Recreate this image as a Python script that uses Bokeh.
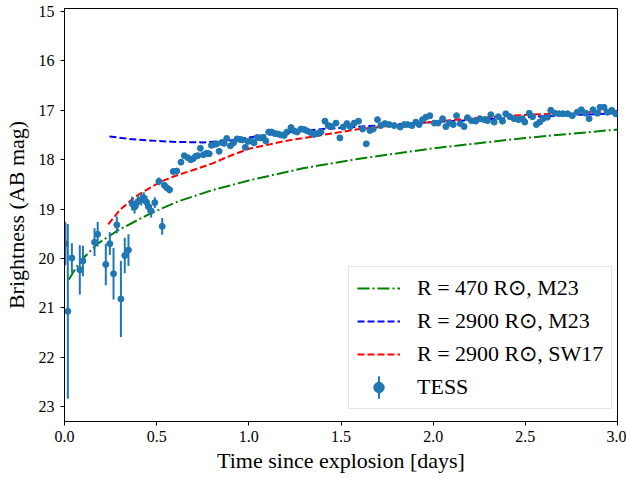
from bokeh.plotting import figure
from bokeh.models import Range1d, FixedTicker, PrintfTickFormatter, Legend, LegendItem, ColumnDataSource
from bokeh.embed import file_html
from bokeh.resources import INLINE

# ---- TESS light curve (time since explosion [d], AB mag, error) ----
t_obs = [0.004, 0.018, 0.040, 0.083, 0.100, 0.163, 0.180, 0.224, 0.246, 0.266,
         0.284, 0.306, 0.327, 0.347, 0.367, 0.380, 0.398, 0.416, 0.430, 0.445,
         0.455, 0.470, 0.490, 0.512, 0.530, 0.542, 0.555, 0.570, 0.590, 0.609,
         0.632, 0.650, 0.669, 0.685, 0.698, 0.712, 0.723, 0.737, 0.754, 0.772,
         0.785, 0.797, 0.814, 0.826, 0.839, 0.855, 0.866, 0.880, 0.900, 0.917,
         0.936, 0.952, 0.965, 0.981, 0.996, 1.012, 1.028, 1.046, 1.062, 1.078,
         1.092, 1.108, 1.124, 1.140, 1.157, 1.175, 1.192, 1.207, 1.229, 1.247,
         1.262, 1.283, 1.301, 1.317, 1.335, 1.352, 1.373, 1.391, 1.413, 1.431,
         1.449, 1.473, 1.494, 1.512, 1.532, 1.550, 1.572, 1.595, 1.617, 1.637,
         1.657, 1.675, 1.698, 1.716, 1.738, 1.762, 1.789, 1.821, 1.843, 1.861,
         1.885, 1.906, 1.924, 1.942, 1.960, 1.982, 2.006, 2.027, 2.051, 2.069,
         2.087, 2.109, 2.127, 2.147, 2.168, 2.186, 2.208, 2.231, 2.253, 2.277,
         2.295, 2.313, 2.331, 2.354, 2.376, 2.394, 2.416, 2.439, 2.463, 2.484,
         2.497, 2.521, 2.539, 2.560, 2.578, 2.596, 2.620, 2.638, 2.660, 2.683,
         2.705, 2.728, 2.755, 2.782, 2.804, 2.828, 2.846, 2.867, 2.891, 2.905,
         2.927, 2.945, 2.969, 2.990]
m_obs = [19.70, 21.07, 19.99, 20.23, 20.05, 19.67, 19.51, 20.12, 19.70, 20.31,
         19.32, 20.82, 19.94, 19.83, 18.89, 18.96, 18.85, 18.81, 18.77, 18.86,
         18.95, 19.04, 18.87, 18.44, 19.35, 18.52, 18.57, 18.61, 18.24, 18.23,
         18.05, 17.92, 17.96, 18.00, 17.98, 17.93, 17.92, 17.77, 17.90, 17.87,
         17.88, 17.71, 17.69, 17.68, 17.83, 17.65, 17.67, 17.57, 17.72, 17.66,
         17.58, 17.59, 17.60, 17.75, 17.63, 17.62, 17.66, 17.55, 17.56, 17.55,
         17.62, 17.44, 17.44, 17.47, 17.48, 17.50, 17.51, 17.44, 17.35, 17.42,
         17.44, 17.38, 17.39, 17.42, 17.45, 17.49, 17.47, 17.44, 17.22, 17.31,
         17.33, 17.26, 17.56, 17.34, 17.27, 17.33, 17.26, 17.22, 17.38, 17.68,
         17.41, 17.38, 17.19, 17.31, 17.27, 17.29, 17.31, 17.34, 17.29, 17.29,
         17.31, 17.24, 17.29, 17.19, 17.14, 17.11, 17.26, 17.26, 17.17, 17.33,
         17.26, 17.29, 17.11, 17.27, 17.33, 17.15, 17.21, 17.22, 17.17, 17.19,
         17.21, 17.09, 17.24, 17.13, 17.22, 17.07, 17.13, 17.17, 17.19, 17.17,
         17.24, 17.06, 17.13, 17.29, 17.24, 17.17, 17.14, 17.00, 17.06, 17.07,
         17.07, 17.07, 17.11, 17.04, 16.99, 17.06, 17.17, 16.99, 17.06, 16.94,
         16.94, 17.04, 17.00, 17.07]
e_obs = [0.42, 1.77, 0.30, 0.50, 0.31, 0.28, 0.25, 0.42, 0.23, 0.52,
         0.17, 0.77, 0.36, 0.32, 0.14, 0.13, 0.12, 0.12, 0.11, 0.12,
         0.12, 0.13, 0.11, 0.08, 0.17, 0.07, 0.07, 0.07, 0.06, 0.06,
         0.05] + [0.04] * 24 + [0.03] * 99

# ---- model curves ----
t_m23_470 = [0.023, 0.06, 0.10, 0.18, 0.29, 0.47, 0.62, 0.80, 1.00, 1.30, 1.60, 2.00, 2.50, 3.00]
m_m23_470 = [20.43, 20.20, 20.00, 19.70, 19.43, 19.08, 18.84, 18.62, 18.42, 18.17, 17.98, 17.77, 17.56, 17.39]

t_m23_2900 = [0.244, 0.35, 0.45, 0.60, 0.75, 0.90, 1.00, 1.20, 1.40, 1.65, 2.00, 2.30, 2.60, 3.00]
m_m23_2900 = [17.53, 17.58, 17.61, 17.64, 17.65, 17.61, 17.55, 17.45, 17.38, 17.32, 17.24, 17.18, 17.12, 17.06]

t_sw17_2900 = [0.237, 0.30, 0.38, 0.45, 0.52, 0.60, 0.69, 0.80, 0.90, 1.00, 1.20, 1.40, 1.60, 1.90, 2.13, 2.37, 2.70, 3.00]
m_sw17_2900 = [19.31, 19.02, 18.76, 18.60, 18.45, 18.33, 18.22, 18.08, 17.92, 17.78, 17.62, 17.50, 17.38, 17.27, 17.19, 17.12, 17.06, 17.01]

x_ticks = [0.0, 0.5, 1.0, 1.5, 2.0, 2.5, 3.0]
y_ticks = [15, 16, 17, 18, 19, 20, 21, 22, 23]

FONT = "Liberation Serif"
BLUE = "#1f77b4"

p = figure(width=626, height=478, output_backend="svg", toolbar_location=None,
           x_range=Range1d(0, 3), y_range=Range1d(23.30, 14.94),
           min_border_left=63, min_border_right=9, min_border_top=8, min_border_bottom=57)
p.grid.visible = False
p.outline_line_color = "black"
p.outline_line_width = 1
p.background_fill_color = "white"

for ax in (p.xaxis[0], p.yaxis[0]):
    ax.axis_line_color = "black"
    ax.major_tick_line_color = "black"
    ax.major_tick_out = 4
    ax.major_tick_in = 0
    ax.minor_tick_line_color = None
    ax.major_label_text_font = FONT
    ax.major_label_text_font_size = "16px"
    ax.major_label_text_color = "black"
    ax.axis_label_text_font = FONT
    ax.axis_label_text_font_size = "22px"
    ax.axis_label_text_font_style = "normal"
    ax.axis_label_text_color = "black"

p.xaxis.major_label_standoff = 5
p.xaxis.axis_label_standoff = 3
p.yaxis.major_label_standoff = 6
p.yaxis.axis_label_standoff = 7

p.xaxis.ticker = FixedTicker(ticks=x_ticks)
p.xaxis.formatter = PrintfTickFormatter(format="%.1f")
p.yaxis.ticker = FixedTicker(ticks=y_ticks)
p.xaxis.axis_label = "Time since explosion [days]"
p.yaxis.axis_label = "Brightness (AB mag)"

r_green = p.line(t_m23_470, m_m23_470, line_color="green", line_width=2, line_dash="12 3 2 3")
r_blue = p.line(t_m23_2900, m_m23_2900, line_color="blue", line_width=2, line_dash="7 3")
r_red = p.line(t_sw17_2900, m_sw17_2900, line_color="red", line_width=2, line_dash="7 3")

src = ColumnDataSource(dict(t=t_obs, m=m_obs,
                            lo=[m - e for m, e in zip(m_obs, e_obs)],
                            hi=[m + e for m, e in zip(m_obs, e_obs)]))
r_err = p.segment(x0="t", y0="lo", x1="t", y1="hi", source=src, line_color=BLUE, line_width=2)
r_pts = p.scatter(x="t", y="m", source=src, size=6, fill_color=BLUE, line_color=BLUE)
# thin ellipse over the first error bar: gives a vertical bar as legend key
key_src = ColumnDataSource(dict(t=t_obs[:1], m=m_obs[:1], h=[2 * e_obs[0]]))
r_key = p.ellipse(x="t", y="m", width=1e-5, height="h", source=key_src,
                  fill_color=None, line_color=BLUE, line_width=2)

legend = Legend(items=[
    LegendItem(label="R = 470 R\u2299, M23", renderers=[r_green]),
    LegendItem(label="R = 2900 R\u2299, M23", renderers=[r_blue]),
    LegendItem(label="R = 2900 R\u2299, SW17", renderers=[r_red]),
    LegendItem(label="TESS", renderers=[r_key, r_pts]),
], location=(284, 12))
legend.label_text_font = FONT
legend.label_text_font_size = "22px"
legend.label_text_color = "black"
legend.glyph_width = 43
legend.glyph_height = 26
legend.label_height = 26
legend.label_standoff = 17
legend.spacing = 7
legend.padding = 8
legend.margin = 0
legend.border_line_color = "#cccccc"
legend.border_line_width = 1
legend.background_fill_alpha = 0.8
p.add_layout(legend)

open("out.html", "w").write(file_html(p, INLINE))
